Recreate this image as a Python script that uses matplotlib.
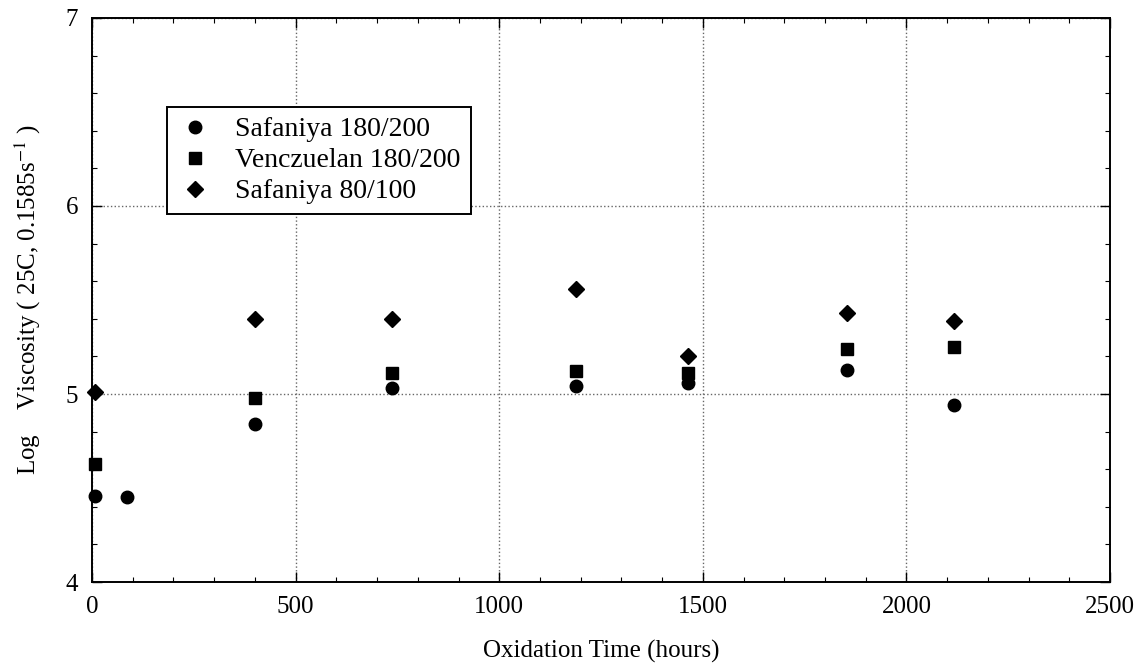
import matplotlib
matplotlib.use('Agg')
import matplotlib.pyplot as plt
from matplotlib.ticker import MultipleLocator

# Data
saf180_hours = [8, 86, 400, 737, 1189, 1464, 1855, 2118]
saf180_visc = [4.46, 4.45, 4.84, 5.03, 5.04, 5.06, 5.13, 4.94]

ven180_hours = [8, 400, 737, 1189, 1464, 1855, 2118]
ven180_visc = [4.63, 4.98, 5.11, 5.12, 5.11, 5.24, 5.25]

saf80_hours = [8, 400, 737, 1189, 1464, 1855, 2118]
saf80_visc = [5.01, 5.40, 5.40, 5.56, 5.20, 5.43, 5.39]

plt.rcParams['font.family'] = ['Liberation Serif', 'DejaVu Serif']
plt.rcParams['mathtext.fontset'] = 'stix'

fig = plt.figure(figsize=(11.46, 6.71), dpi=100)
ax = fig.add_axes([0.0803, 0.1326, 0.8883, 0.8406])

ax.plot(saf180_hours, saf180_visc, 'o', color='black', markersize=9,
        label='Safaniya 180/200', clip_on=False, zorder=3)
ax.plot(ven180_hours, ven180_visc, 's', color='black', markersize=8.5,
        label='Venczuelan 180/200', clip_on=False, zorder=3)
ax.plot(saf80_hours, saf80_visc, 'D', color='black', markersize=8,
        label='Safaniya 80/100', clip_on=False, zorder=3)

ax.set_xlim(0, 2500)
ax.set_ylim(4, 7)
ax.xaxis.set_major_locator(MultipleLocator(500))
ax.xaxis.set_minor_locator(MultipleLocator(100))
ax.yaxis.set_major_locator(MultipleLocator(1))
ax.yaxis.set_minor_locator(MultipleLocator(0.2))

ax.tick_params(which='both', direction='in', top=True, right=True, labelsize=18)
ax.tick_params(which='major', length=7, width=1, pad=10)
ax.tick_params(which='minor', length=3.5, width=0.8)

ax.grid(True, which='major', linestyle=':', color='#666666', linewidth=1)
for sp in ax.spines.values():
    sp.set_linewidth(1.4)

ax.set_xlabel('Oxidation Time (hours)', fontsize=18, labelpad=16)
ax.set_ylabel('Log    Viscosity ( 25C, 0.1585s$^{-1}$ )', fontsize=18, labelpad=16)

leg = ax.legend(loc='upper left', bbox_to_anchor=(0.074, 0.842), fontsize=20,
                frameon=True, fancybox=False, edgecolor='black', borderpad=0.35,
                handletextpad=0.8, labelspacing=0.2, handlelength=1.3,
                borderaxespad=0)
leg.get_frame().set_linewidth(1.4)
leg.get_frame().set_alpha(1)

fig.savefig('out.png', dpi=100)
